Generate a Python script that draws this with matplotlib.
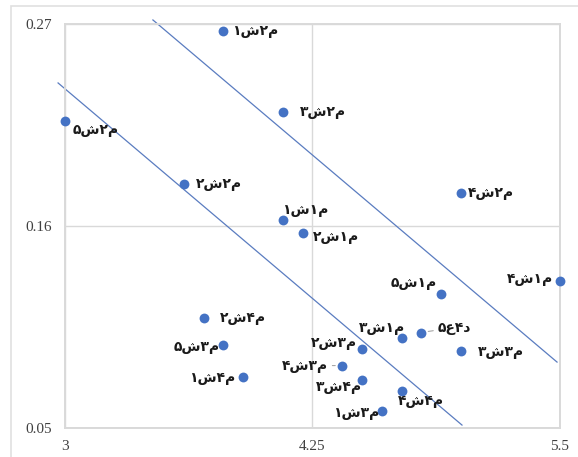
import matplotlib
matplotlib.use("Agg")
import matplotlib.pyplot as plt
from matplotlib.patches import Rectangle

# ---- data ----
labels = ["م۲ش۱", "م۲ش۳", "م۲ش۵", "م۲ش۲", "م۲ش۴",
          "م۱ش۱", "م۱ش۲", "م۱ش۴", "م۱ش۵", "م۴ش۲",
          "د۴ع۵", "م۱ش۳", "م۳ش۵", "م۳ش۲", "م۳ش۳",
          "م۳ش۴", "م۴ش۱", "م۴ش۳", "م۴ش۴", "م۳ش۱"]
x_vals = [3.80, 4.10, 3.00, 3.60, 5.00,
          4.10, 4.20, 5.50, 4.90, 3.70,
          4.80, 4.70, 3.80, 4.50, 5.00,
          4.40, 3.90, 4.50, 4.70, 4.60]
y_vals = [0.266, 0.222, 0.217, 0.183, 0.178,
          0.163, 0.156, 0.130, 0.123, 0.110,
          0.102, 0.099, 0.095, 0.093, 0.092,
          0.084, 0.078, 0.076, 0.070, 0.059]

x_ticks = [3, 4.25, 5.5]
y_ticks = [0.05, 0.16, 0.27]
x_tick_labels = ["3", "4.25", "5.5"]
y_tick_labels = ["0.05", "0.16", "0.27"]

upper_line_x = [3.444, 5.485]
upper_line_y = [0.2722, 0.0859]
lower_line_x = [2.965, 5.005]
lower_line_y = [0.2379, 0.0516]

# label placement (offset in pixels, horizontal alignment, leader line)
placement = [
    (9, 0, "left", False), (17, 0, "left", False), (8, -9, "left", False),
    (12, 0, "left", False), (7, 0, "left", False),
    (-1, 10, "left", False), (10, -4, "left", False), (-7, 2, "right", False),
    (-4, 11, "right", False), (16, 0, "left", False),
    (16, 5, "left", True), (4, 10, "right", False), (-4, -2, "right", False),
    (-5, 6, "right", False), (17, -1, "left", False),
    (-14, 0, "right", True), (-8, -1, "right", False), (0, -7, "right", False),
    (-4, -10, "left", False), (-3, -2, "right", False),
]


def visual(s):
    # all letters here are isolated (separated by digits): RTL display = reversed order
    return s[::-1]


W, H = 578, 457
fig = plt.figure(figsize=(W / 100, H / 100), dpi=100)
fig.patch.set_facecolor("white")
ax = fig.add_axes([65 / W, (H - 428) / H, (560 - 65) / W, (428 - 24) / H])

grid_c = "#d9d9d9"
ax.set_xlim(x_ticks[0], x_ticks[-1])
ax.set_ylim(y_ticks[0], y_ticks[-1])
ax.set_xticks(x_ticks)
ax.set_yticks(y_ticks)
ax.set_xticklabels(x_tick_labels, family="Liberation Serif", fontsize=11, color="#404040")
ax.set_yticklabels(y_tick_labels, family="Liberation Serif", fontsize=11, color="#404040")
ax.tick_params(length=0, pad=9)
ax.grid(True, color=grid_c, lw=1.0)
ax.set_axisbelow(True)
for sp in ax.spines.values():
    sp.set_color(grid_c)
    sp.set_linewidth(1.4)

line_c = "#5a7cc0"
ax.plot(upper_line_x, upper_line_y, color=line_c, lw=0.9, clip_on=False, zorder=2)
ax.plot(lower_line_x, lower_line_y, color=line_c, lw=0.9, clip_on=False, zorder=2)

ax.scatter(x_vals, y_vals, s=50, color="#4472c4", zorder=4, clip_on=False, linewidths=0)

for lab, xv, yv, (dx, dy, ha, lead) in zip(labels, x_vals, y_vals, placement):
    kw = {}
    if lead:
        kw["arrowprops"] = dict(arrowstyle="-", color="#a6a6a6", lw=0.8,
                                shrinkA=1, shrinkB=5)
    ax.annotate(visual(lab), xy=(xv, yv), xytext=(dx, dy), textcoords="offset pixels",
                ha=ha, va="center", fontsize=10, fontweight="bold",
                family="DejaVu Sans", color="#1a1a1a", zorder=5, **kw)

fig.add_artist(Rectangle((11 / W, -0.1), 2, 1 - 6 / H + 0.1, transform=fig.transFigure,
                         fill=False, edgecolor="#e0e0e0", lw=1.2))

fig.savefig("out.png", dpi=100, facecolor="white")
